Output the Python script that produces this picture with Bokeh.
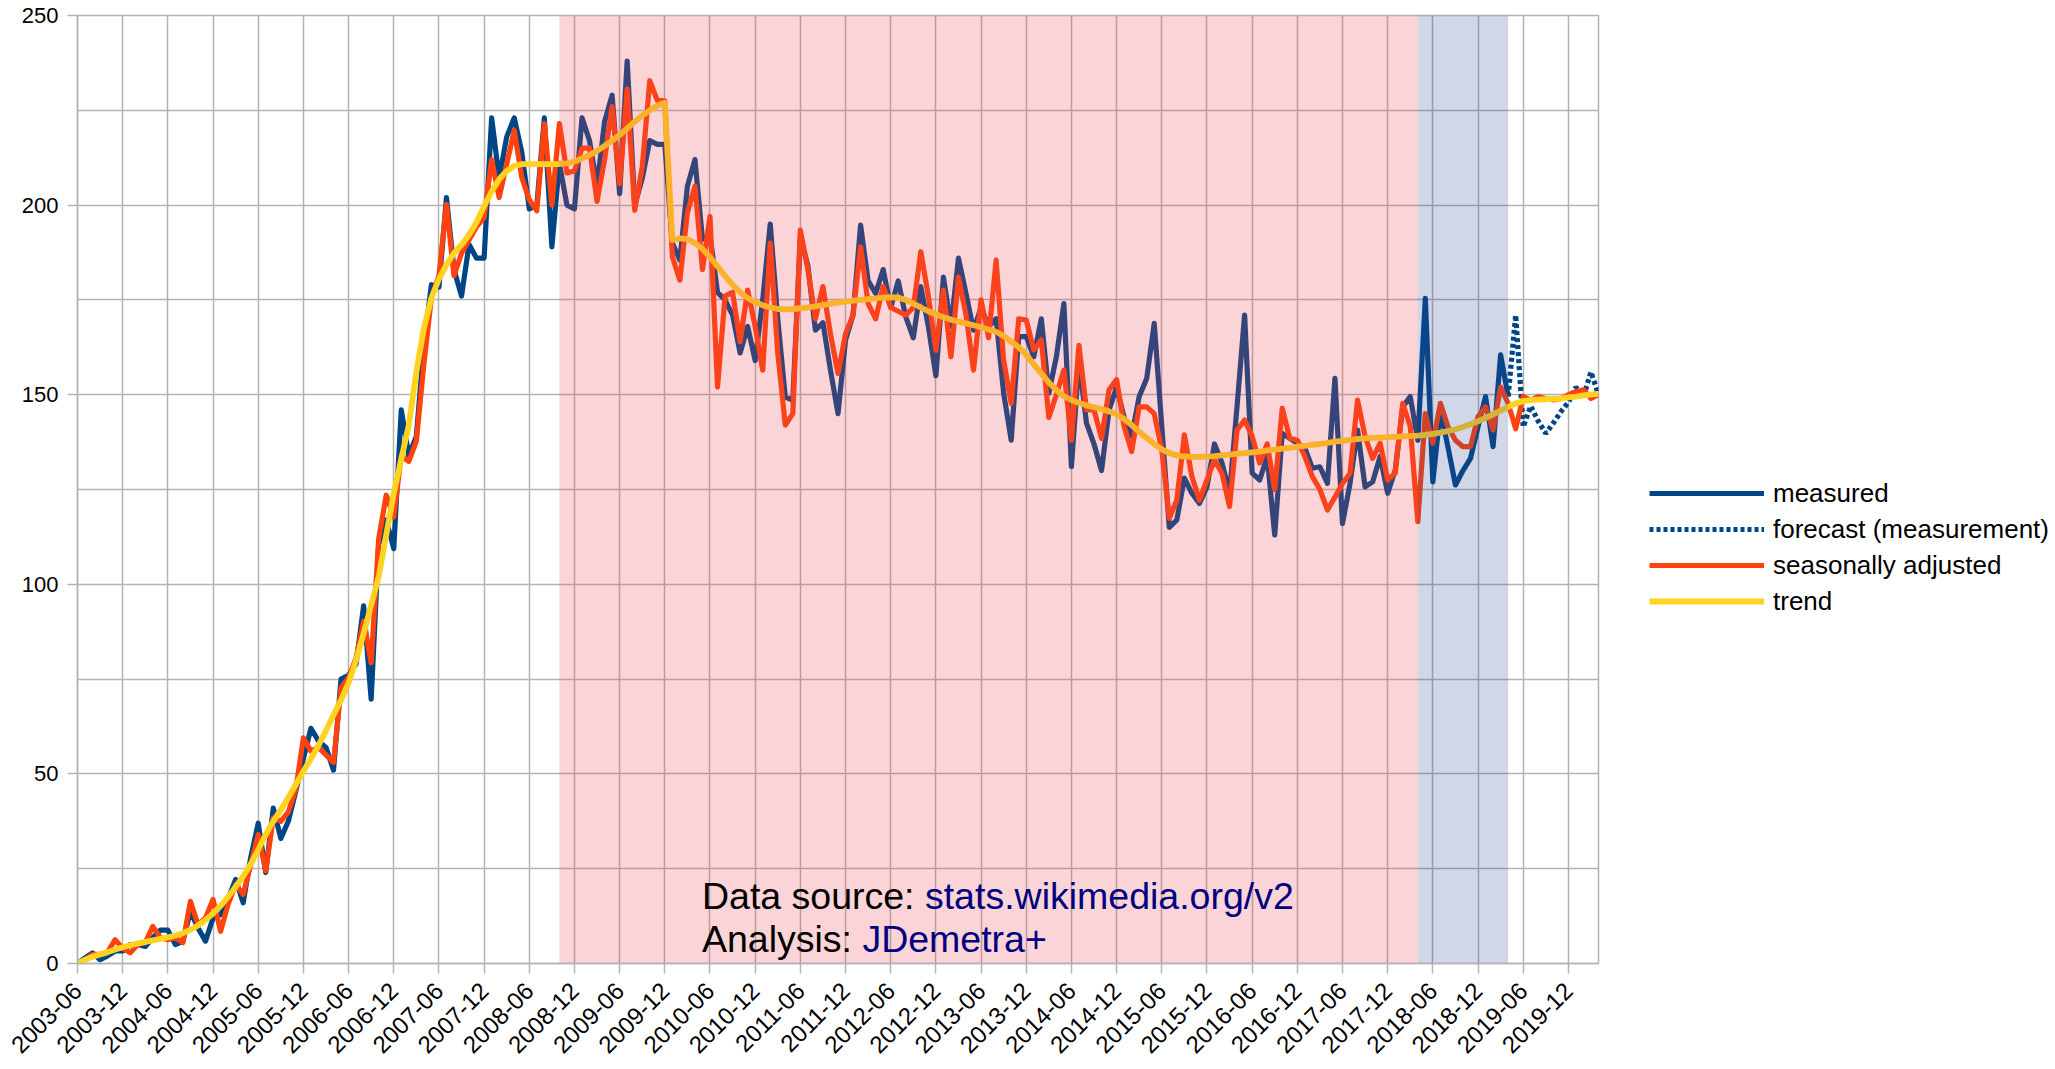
import math
from bokeh.plotting import figure
from bokeh.models import Range1d, FixedTicker, Legend, LegendItem, Label
from bokeh.embed import file_html
from bokeh.resources import INLINE

# ---------------- data ----------------
first_month = "2003-06"
last_month = "2020-04"

# measured monthly values, 2003-06 .. 2019-04
measured = [
    0, 1.5, 2.8, 1, 2, 3.3, 3.3, 5, 5, 4.5,
    6.8, 8.8, 8.8, 5, 5.9, 13.8, 9.4, 5.9, 12, 12.9,
    17, 22.2, 16, 27.9, 37, 24, 41, 33, 37.5, 45.5,
    54, 62, 58.7, 57, 51, 75, 76, 79, 94.3, 69.7,
    110.6, 117, 109.4, 146, 134, 139, 163, 179, 178.4, 202,
    183, 176, 189.6, 186, 186, 223, 207, 218, 223, 214,
    199, 200, 223, 189, 211, 200, 199, 223, 217, 205,
    222, 229, 203, 238, 200, 207, 217, 216, 216, 190,
    185.5, 205, 212, 191, 192, 177, 175, 171, 161, 168,
    159, 175, 195, 170, 149.4, 148.5, 191.6, 184, 167, 169,
    156.5, 145, 164.4, 171, 194.7, 180, 176.7, 183, 173, 180,
    170.5, 165, 178.5, 168, 155, 181, 168, 186, 176.7, 167,
    173, 168, 170, 150.4, 138, 165.3, 165.3, 160, 170, 150.4,
    160, 174, 131, 159, 142.5, 137, 130, 146, 152, 144,
    139, 149.5, 154.3, 168.8, 141.6, 115, 117, 128, 124, 121.3,
    125.7, 137, 132, 124, 147, 171, 129.3, 127.5, 133.7, 113,
    139.8, 138.5, 137.2, 136, 130.6, 131, 126.6, 154.3, 116, 126.6,
    140.7, 125.7, 127, 133.7, 124, 130, 146.8, 149.5, 138, 175.4,
    127, 146, 136.3, 126.2, 130, 133.2, 141.6, 149.5, 136.3, 160.5,
    149.5,
]
forecast_start = "2019-04"
# forecast of the measurement, 2019-04 .. 2020-04
forecast = [149.5, 171, 141.5, 147, 143, 139.8, 142.5, 145.5, 148, 152, 149.5, 156, 150]

# seasonally adjusted, 2003-06 .. 2020-04
seasonally_adjusted = [
    0, 1, 2.4, 2.4, 3, 6.3, 4, 2.8, 5, 5.5,
    9.8, 6.8, 6.3, 6.8, 5.5, 16.4, 10.3, 12, 16.9, 8.5,
    15.6, 20.8, 18.2, 26, 34, 24.4, 38.4, 37.5, 40, 46,
    59.5, 56, 57, 55, 53, 72.7, 75.4, 80.6, 90.3, 79.3,
    112, 123.5, 117.7, 134, 132.4, 137.7, 158, 175.5, 181.4, 200.2,
    181.4, 187.3, 190.8, 194.3, 196.7, 212, 202, 210.8, 219.7, 207.3,
    201.4, 198.5, 221.5, 200, 221.5, 208.5, 209, 215, 215, 201,
    212, 226, 205.6, 230.6, 198.6, 210, 232.8, 227.6, 227.5, 186.4,
    180.2, 198, 205, 183, 197, 152, 176, 177, 164, 177.6,
    168, 156.5, 190, 161, 142, 145, 193.4, 183, 170, 178.5,
    166, 155.6, 166, 171, 189, 174, 170, 178.5, 173, 172,
    171, 173, 187.7, 176, 161.7, 177.6, 160, 181, 171, 156.5,
    175, 165, 185.5, 159, 147.7, 170, 169.7, 161.8, 164.4, 144,
    150, 156.5, 138, 163, 146, 146, 138.5, 151.3, 154, 141.6,
    135, 146.8, 146.8, 145, 135.4, 117.4, 122.2, 139.4, 128.4, 122.2,
    127.5, 132.8, 129.3, 120.5, 140.7, 143.3, 139, 132, 137, 125,
    146.4, 138.5, 138, 133.7, 128.4, 125, 119.6, 123, 126.6, 129.3,
    148.6, 139, 133.2, 137.2, 127.5, 129.3, 147.7, 141.6, 116.5, 145,
    137.2, 147.7, 141.6, 138, 136.3, 136.3, 144.2, 146.8, 140.7, 152,
    147.7, 141, 149.5, 148.6, 149.5, 149, 148.6, 149, 150, 150.8,
    151.3, 149, 150,
]

# trend, 2003-06 .. 2020-04
trend = [
    0, 1, 1.8, 2.4, 3, 3.7, 4.3, 4.8, 5.3, 5.7,
    6.1, 6.5, 6.9, 7.4, 8, 8.9, 10, 11.5, 13.2, 15.2,
    17.6, 20.2, 23, 26.2, 30, 34, 37.5, 40.5, 43.8, 47.2,
    50.7, 54, 57.5, 61.4, 65.5, 69.5, 74, 80, 87, 94.5,
    102, 113, 124, 133, 142, 156, 167.5, 175.5, 180.5, 184.3,
    187.3, 189.5, 192.2, 195.5, 199.7, 203.6, 206.8, 209, 210.3, 210.8,
    210.8, 210.8, 210.8, 210.8, 210.8, 211, 211.5, 212.3, 213.2, 214.3,
    215.6, 217, 218.5, 220.2, 222, 223.6, 225, 226.2, 227, 190.8,
    191.2, 191, 190, 188.4, 186.3, 183.8, 181.3, 179, 177, 175.5,
    174.4, 173.6, 173, 172.6, 172.5, 172.6, 172.8, 173, 173.3, 173.6,
    174, 174.3, 174.6, 174.8, 175, 175.2, 175.4, 175.6, 175.7, 175.6,
    175, 174, 173, 172, 171.2, 170.4, 169.8, 169.3, 168.8, 168.3,
    167.8, 167.2, 166.6, 165.5, 164, 162.5, 160.5, 158, 155.6, 153.2,
    151.2, 149.6, 148.6, 147.8, 147.2, 146.7, 146.2, 145.6, 144.8, 143.6,
    142, 140.2, 138.6, 137, 135.6, 134.6, 134, 133.7, 133.6, 133.6,
    133.7, 133.8, 134, 134.2, 134.4, 134.6, 134.8, 135, 135.3, 135.5,
    135.8, 136, 136.3, 136.5, 136.8, 137, 137.3, 137.6, 137.8, 138.1,
    138.3, 138.5, 138.6, 138.7, 138.8, 138.9, 139, 139.1, 139.2, 139.4,
    139.7, 140, 140.4, 140.9, 141.5, 142.2, 143, 143.9, 144.8, 145.8,
    146.8, 147.7, 148.3, 148.6, 148.7, 148.8, 148.9, 149, 149.3, 149.5,
    149.8, 150, 150.2,
]

tick_labels = [
    "2003-06", "2003-12", "2004-06", "2004-12", "2005-06", "2005-12",
    "2006-06", "2006-12", "2007-06", "2007-12", "2008-06", "2008-12",
    "2009-06", "2009-12", "2010-06", "2010-12", "2011-06", "2011-12",
    "2012-06", "2012-12", "2013-06", "2013-12", "2014-06", "2014-12",
    "2015-06", "2015-12", "2016-06", "2016-12", "2017-06", "2017-12",
    "2018-06", "2018-12", "2019-06", "2019-12",
]

# shaded periods (start month, end month)
period_red = ("2008-10", "2018-04")
period_blue = ("2018-04", "2019-04")

series_names = ["measured", "forecast (measurement)", "seasonally adjusted", "trend"]
y_ticks = [0, 50, 100, 150, 200, 250]
y_minor = [25, 75, 125, 175, 225]


def month_index(label):
    y0, m0 = map(int, first_month.split("-"))
    y, m = map(int, label.split("-"))
    return (y - y0) * 12 + (m - m0)


x_end = month_index(last_month)
x_meas = list(range(len(measured)))
f0 = month_index(forecast_start)
x_fc = list(range(f0, f0 + len(forecast)))
x_sa = list(range(len(seasonally_adjusted)))
x_tr = list(range(len(trend)))

# ---------------- figure ----------------
GRID = "#b3b3b3"
FONT = "Liberation Sans"

p = figure(
    frame_width=1521, frame_height=948,
    x_range=Range1d(0, x_end), y_range=Range1d(0, 250),
    output_backend="svg", toolbar_location=None,
    min_border_left=77, min_border_top=15, min_border_bottom=98, min_border_right=40,
    background_fill_color="white", border_fill_color="white",
    outline_line_color=GRID, outline_line_width=1.5,
)

tick_pos = [month_index(t) for t in tick_labels]
p.xaxis.ticker = FixedTicker(ticks=tick_pos)
p.xaxis.major_label_overrides = {tp: t for tp, t in zip(tick_pos, tick_labels)}
p.xaxis.major_label_orientation = math.pi / 4
p.yaxis.ticker = FixedTicker(ticks=y_ticks, minor_ticks=y_minor)

for ax in (p.xaxis[0], p.yaxis[0]):
    ax.axis_line_color = GRID
    ax.axis_line_width = 1.5
    ax.major_tick_line_color = GRID
    ax.major_tick_line_width = 1.5
    ax.major_tick_out = 10
    ax.major_tick_in = 0
    ax.minor_tick_line_color = None
    ax.major_label_text_font = FONT
    ax.major_label_text_color = "black"
p.xaxis.major_label_text_font_size = "24px"
p.yaxis.major_label_text_font_size = "22px"
p.yaxis.major_label_standoff = 9
p.xaxis.major_label_standoff = 13

p.xgrid.grid_line_color = GRID
p.xgrid.grid_line_width = 1.5
p.ygrid.grid_line_color = GRID
p.ygrid.grid_line_width = 1.5
p.ygrid.minor_grid_line_color = GRID
p.ygrid.minor_grid_line_width = 1.5

LW = 5.2
r_meas = p.line(x_meas, measured, line_color="#004586", line_width=LW, line_join="round")
r_fc = p.line(x_fc, forecast, line_color="#004586", line_width=LW, line_dash="4 3")
r_sa = p.line(x_sa, seasonally_adjusted, line_color="#ff420e", line_width=LW, line_join="round")
r_tr = p.line(x_tr, trend, line_color="#ffd320", line_width=LW + 0.6, line_join="round")

# translucent period overlays
p.quad(left=[month_index(period_red[0])], right=[month_index(period_red[1])],
       bottom=[0], top=[250], fill_color="#e8454c", fill_alpha=0.23, line_color=None)
p.quad(left=[month_index(period_blue[0])], right=[month_index(period_blue[1])],
       bottom=[0], top=[250], fill_color="#324996", fill_alpha=0.22, line_color=None)

legend = Legend(
    items=[LegendItem(label=n, renderers=[r]) for n, r in zip(series_names, [r_meas, r_fc, r_sa, r_tr])],
    location=(51, 344),
    padding=0, margin=0, spacing=0,
    glyph_width=115, glyph_height=36, label_height=36, label_standoff=9,
    label_text_font=FONT, label_text_font_size="26px", label_text_color="black",
    border_line_color=None, background_fill_alpha=0,
)
p.add_layout(legend, "right")

# source annotation
ann_x, ann_y1, ann_y2 = 82.93, 17.9, 6.5
fs = 37.5
for y, black_txt, blue_txt in [(ann_y1, "Data source: ", "stats.wikimedia.org/v2"),
                                (ann_y2, "Analysis: ", "JDemetra+")]:
    p.add_layout(Label(x=ann_x, y=y, text=black_txt, text_font=FONT,
                       text_font_size=f"{fs}px", text_color="black", text_baseline="alphabetic"))
    em = {"Data source: ": 5.947, "Analysis: ": 4.279}[black_txt]
    p.add_layout(Label(x=ann_x, y=y, x_offset=em * fs, text=blue_txt, text_font=FONT,
                       text_font_size=f"{fs}px", text_color="#000080", text_baseline="alphabetic"))

open("out.html", "w").write(file_html(p, INLINE))
